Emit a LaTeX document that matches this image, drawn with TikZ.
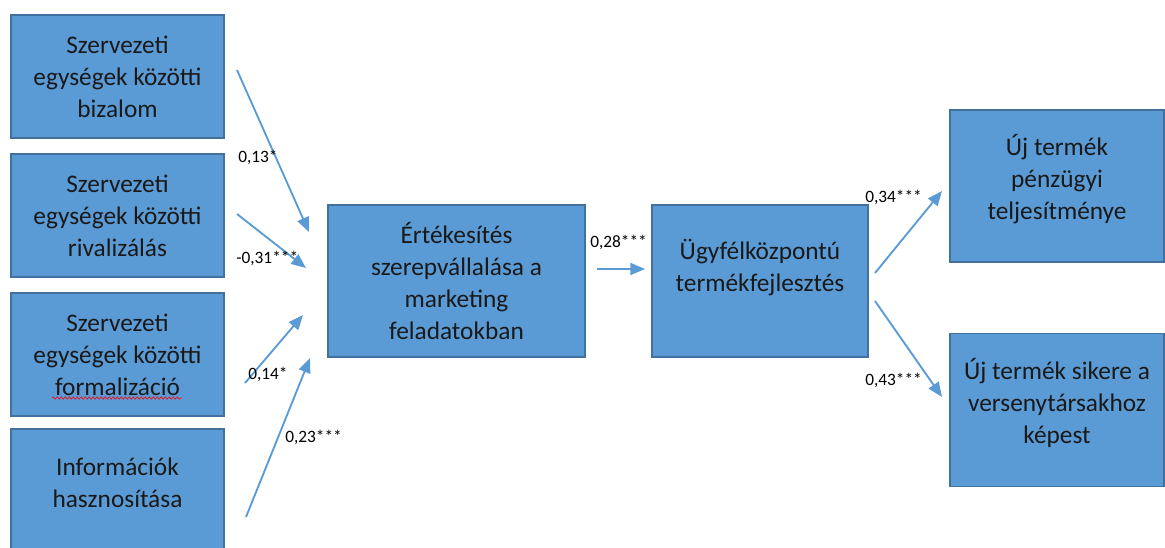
\documentclass[tikz,border=0pt]{standalone}
\usepackage{fontspec}
\setmainfont{Carlito}
\usetikzlibrary{arrows.meta, positioning, decorations.pathmorphing}
\definecolor{dobozkek}{HTML}{5B9BD5}
\definecolor{keretkek}{HTML}{41719C}
\definecolor{nyilkek}{HTML}{5B9BD5}

\begin{document}
\begin{tikzpicture}[x=0.75pt, y=-0.75pt,
    doboz/.style={draw=keretkek, fill=dobozkek, line width=1.1pt, minimum width=160pt, minimum height=92pt,
        align=center, inner sep=0pt, text=black!90, font=\fontsize{19}{24}\selectfont},
    nyil/.style={draw=nyilkek, line width=1.4pt, -{Triangle[length=11pt,width=9pt]}},
    egyutt/.style={anchor=west, inner sep=0pt, font=\fontsize{13}{15}\selectfont}]
    \path[use as bounding box, clip] (0,0) rectangle (1165,547);

    % bal oldali dobozok
    \node[doboz] (bizalom) at (117.5,76.5) {Szervezeti\\egységek közötti\\bizalom};
    \node[doboz] (rival) at (117.5,215.5) {Szervezeti\\egységek közötti\\rivalizálás};
    \node[doboz] (formal) at (117.5,354.5) {Szervezeti\\egységek közötti\\formalizáció};
    \node[doboz, text depth=12pt] (info) at (117.5,490.5) {Információk\\hasznosítása};
    \draw[red, line width=0.5pt, decorate, decoration={snake, amplitude=0.8pt, segment length=3pt}] (52,398) -- (182,398);

    % kozepso dobozok
    \node[doboz, minimum width=193pt, minimum height=114pt] (ertek) at (456.5,281) {Értékesítés\\szerepvállalása a\\marketing\\feladatokban};
    \node[doboz, minimum width=162pt, minimum height=114pt, text depth=24pt] (ugyfel) at (760,281) {Ügyfélközpontú\\termékfejlesztés};

    % jobb oldali dobozok
    \node[doboz, minimum width=160.5pt, minimum height=114pt, text depth=14pt] (penzugy) at (1057,186) {Új termék\\pénzügyi\\teljesítménye};
    \node[doboz, minimum width=160.5pt, minimum height=115pt, text depth=14pt] (siker) at (1057,410) {Új termék sikere a\\versenytársakhoz\\képest};

    % nyilak vegpontjai
    \coordinate (b1) at (237,70);   \coordinate (e1) at (309,232);
    \coordinate (b2) at (237,214);  \coordinate (e2) at (306,268);
    \coordinate (b3) at (245,383);  \coordinate (e3) at (303,315);
    \coordinate (b4) at (246,517);  \coordinate (e4) at (310,358);
    \coordinate (b5) at (597,269);  \coordinate (e5) at (645,269);
    \coordinate (b6) at (875,273);  \coordinate (e6) at (942,191);
    \coordinate (b7) at (875,301);  \coordinate (e7) at (942,397);

    \draw[nyil] (b1) -- (e1);
    \draw[nyil] (b2) -- (e2);
    \draw[nyil] (b3) -- (e3);
    \draw[nyil] (b4) -- (e4);
    \draw[nyil] (b5) -- (e5);
    \draw[nyil] (b6) -- (e6);
    \draw[nyil] (b7) -- (e7);

    % egyutthatok
    \node[egyutt] (c1) at (238,157) {0,13*};
    \node[egyutt] (c2) at (236,258) {-0,31***};
    \node[egyutt] (c3) at (248,374) {0,14*};
    \node[egyutt] (c4) at (285,437) {0,23***};
    \node[egyutt] (c5) at (590,242) {0,28***};
    \node[egyutt] (c6) at (865,197) {0,34***};
    \node[egyutt] (c7) at (865,380) {0,43***};
\end{tikzpicture}
\end{document}
